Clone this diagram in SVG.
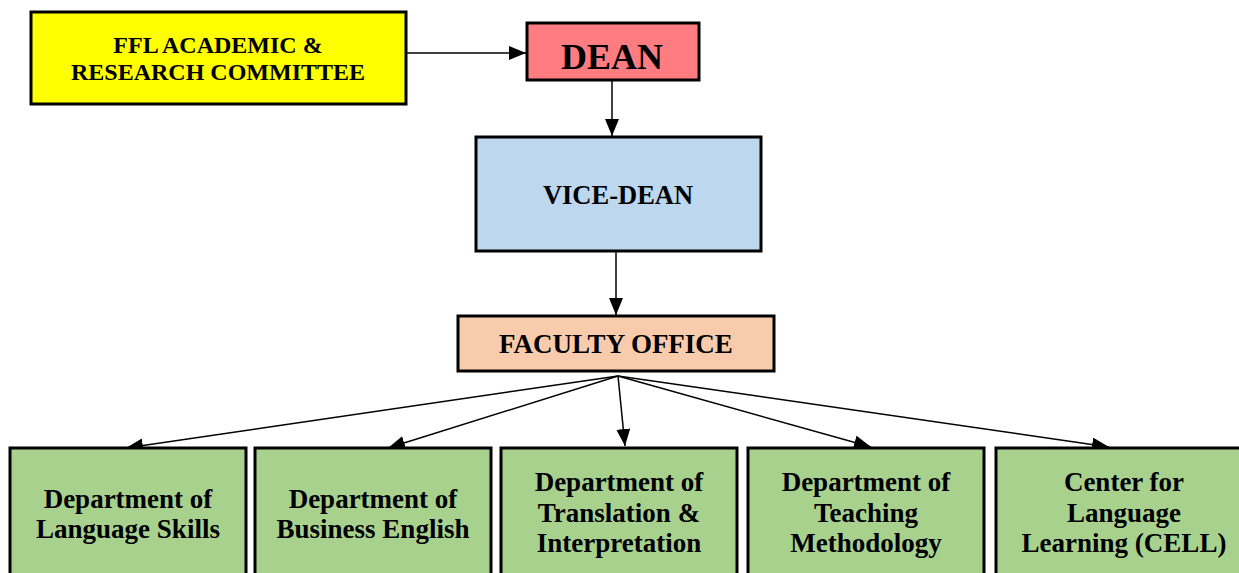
<svg xmlns="http://www.w3.org/2000/svg" width="1239" height="573" viewBox="0 0 1239 573">
  <defs>
    <style>
      .box { stroke: #000; stroke-width: 3; }
      .lbl { font-family: "Liberation Serif", "Times New Roman", serif; font-weight: bold; fill: #000; text-anchor: middle; }
      .dept { font-size: 27px; }
      .link { stroke: #000; stroke-width: 1.5; fill: none; marker-end: url(#arrow); }
      .yellow { fill: #FFFF00; }
      .red { fill: #FF7C80; }
      .blue { fill: #BDD7EE; }
      .peach { fill: #F8CBAD; }
      .green { fill: #A9D18E; }
    </style>
    <marker id="arrow" markerUnits="userSpaceOnUse" markerWidth="18" markerHeight="15" refX="17" refY="7" orient="auto">
      <path d="M0,0 L17,7 L0,14 Z" fill="#000"/>
    </marker>
  </defs>
  <rect width="1239" height="573" fill="#fff"/>

  <g id="connectors">
    <line class="link" x1="407" y1="53" x2="526" y2="53"/>
    <line class="link" x1="612" y1="81" x2="612" y2="136"/>
    <line class="link" x1="616" y1="252" x2="616" y2="315"/>
    <line class="link" x1="618" y1="376" x2="126" y2="448"/>
    <line class="link" x1="618" y1="376" x2="388" y2="448"/>
    <line class="link" x1="618" y1="376" x2="625" y2="446"/>
    <line class="link" x1="618" y1="376" x2="871" y2="447"/>
    <line class="link" x1="618" y1="376" x2="1109" y2="447"/>
  </g>

  <g id="committee">
    <rect class="box yellow" x="31" y="12" width="375" height="92"/>
    <text class="lbl" x="218" y="53" font-size="24">FFL ACADEMIC &amp;</text>
    <text class="lbl" x="218" y="80" font-size="24">RESEARCH COMMITTEE</text>
  </g>

  <g id="dean">
    <rect class="box red" x="527" y="23" width="172" height="57"/>
    <text class="lbl" x="612" y="69" font-size="36">DEAN</text>
  </g>

  <g id="vice-dean">
    <rect class="box blue" x="476" y="137" width="285" height="114"/>
    <text class="lbl" x="618" y="204" font-size="26.5">VICE-DEAN</text>
  </g>

  <g id="faculty-office">
    <rect class="box peach" x="458" y="316" width="316" height="55"/>
    <text class="lbl" x="616" y="353" font-size="27">FACULTY OFFICE</text>
  </g>

  <g id="dept-language-skills">
    <rect class="box green" x="10" y="448" width="236" height="140"/>
    <text class="lbl dept" x="128" y="508">Department of</text>
    <text class="lbl dept" x="128" y="538">Language Skills</text>
  </g>

  <g id="dept-business-english">
    <rect class="box green" x="255" y="448" width="236" height="140"/>
    <text class="lbl dept" x="373" y="508">Department of</text>
    <text class="lbl dept" x="373" y="538">Business English</text>
  </g>

  <g id="dept-translation">
    <rect class="box green" x="501" y="448" width="236" height="140"/>
    <text class="lbl dept" x="619" y="491">Department of</text>
    <text class="lbl dept" x="619" y="522">Translation &amp;</text>
    <text class="lbl dept" x="619" y="552">Interpretation</text>
  </g>

  <g id="dept-teaching">
    <rect class="box green" x="748" y="448" width="236" height="140"/>
    <text class="lbl dept" x="866" y="491">Department of</text>
    <text class="lbl dept" x="866" y="522">Teaching</text>
    <text class="lbl dept" x="866" y="552">Methodology</text>
  </g>

  <g id="cell">
    <rect class="box green" x="996" y="448" width="258" height="140"/>
    <text class="lbl dept" x="1124" y="491">Center for</text>
    <text class="lbl dept" x="1124" y="522">Language</text>
    <text class="lbl dept" x="1124" y="552">Learning (CELL)</text>
  </g>
</svg>
